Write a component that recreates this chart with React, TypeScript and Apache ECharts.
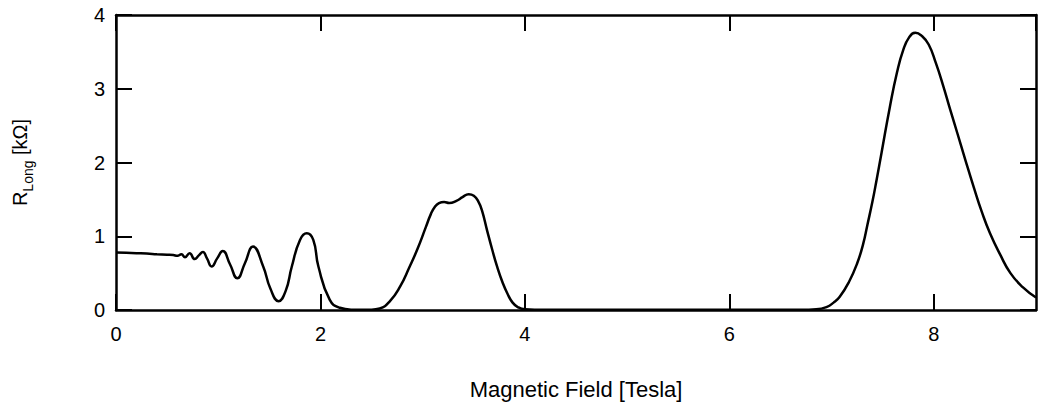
import React, { useEffect, useRef } from "react";
import * as echarts from "echarts";

const fieldTesla: number[] = [
  0, 0.1, 0.2, 0.3, 0.4, 0.5, 0.56, 0.6, 0.64, 0.675, 0.72, 0.77, 0.81, 0.85, 0.89, 0.935, 0.99, 1.044, 1.115,
  1.187, 1.26, 1.34, 1.44, 1.51, 1.59, 1.66, 1.72, 1.8, 1.866, 1.93, 1.98, 2.09, 2.19, 2.3, 2.5, 2.58, 2.68, 2.78,
  2.87, 2.95, 3.03, 3.08, 3.12, 3.16, 3.21, 3.26, 3.33, 3.39, 3.45, 3.5, 3.545, 3.58, 3.63, 3.68, 3.73, 3.78, 3.83,
  3.88, 3.93, 4.0, 4.2, 5.0, 6.0, 6.7, 6.85, 6.95, 7.02, 7.08, 7.17, 7.25, 7.31, 7.35, 7.4, 7.44, 7.49, 7.57, 7.64,
  7.7, 7.76, 7.82, 7.88, 7.95, 8.02, 8.09, 8.16, 8.23, 8.31, 8.39, 8.47, 8.55, 8.65, 8.75, 8.87, 9.0,
];
const rLongKOhm: number[] = [
  0.78, 0.775, 0.77, 0.765, 0.757, 0.75, 0.745, 0.735, 0.755, 0.715, 0.77, 0.69, 0.74, 0.785, 0.7, 0.59, 0.7, 0.8,
  0.62, 0.43, 0.63, 0.86, 0.59, 0.29, 0.12, 0.26, 0.59, 0.95, 1.04, 0.95, 0.59, 0.14, 0.03, 0.005, 0.005, 0.02,
  0.12, 0.32, 0.58, 0.83, 1.12, 1.3, 1.4, 1.45, 1.465, 1.45, 1.48, 1.53, 1.57, 1.55, 1.47, 1.35, 1.08, 0.82, 0.58,
  0.38, 0.22, 0.1, 0.04, 0.01, 0.003, 0.002, 0.002, 0.003, 0.01, 0.04, 0.1, 0.18, 0.38, 0.63, 0.9, 1.15, 1.47,
  1.76, 2.14, 2.75, 3.22, 3.52, 3.7, 3.76, 3.72, 3.6, 3.35, 3.05, 2.72, 2.4, 2.03, 1.67, 1.33, 1.04, 0.75, 0.5,
  0.31, 0.17,
];
const xTicks = { min: 0, max: 9, interval: 2 };
const yTicks = { min: 0, max: 4, interval: 1 };

const FONT = "'Liberation Sans', Arial, sans-serif";

export default function App() {
  const ref = useRef<HTMLDivElement>(null);
  useEffect(() => {
    if (!ref.current) return;
    const chart = echarts.init(ref.current, undefined, { renderer: "svg" });
    const data = fieldTesla.map((x, i) => [x, rLongKOhm[i]]);
    const axisLine = { show: true, onZero: false, lineStyle: { color: "#000", width: 2.5 } };
    const axisTick = { show: true, inside: true, length: 16, lineStyle: { color: "#000", width: 2 } };
    chart.setOption({
      animation: false,
      backgroundColor: "#fff",
      grid: { left: 116, right: 4, top: 15, bottom: 98 },
      xAxis: [
        {
          type: "value",
          position: "bottom",
          ...xTicks,
          axisLine,
          axisTick,
          splitLine: { show: false },
          axisLabel: {
            color: "#000",
            fontSize: 20,
            fontFamily: FONT,
            margin: 14,
            showMaxLabel: false,
          },
          name: "Magnetic Field [Tesla]",
          nameLocation: "middle",
          nameGap: 68,
          nameTextStyle: { color: "#000", fontSize: 22, fontFamily: FONT },
        },
        {
          type: "value",
          position: "top",
          ...xTicks,
          axisLine,
          axisTick,
          splitLine: { show: false },
          axisLabel: { show: false },
        },
      ],
      yAxis: [
        {
          type: "value",
          position: "left",
          ...yTicks,
          axisLine,
          axisTick,
          splitLine: { show: false },
          axisLabel: { color: "#000", fontSize: 20, fontFamily: FONT, margin: 11 },
          name: "{r|R}{s|Long}{r| [kΩ]}",
          nameLocation: "middle",
          nameGap: 81,
          nameRotate: 90,
          nameTextStyle: {
            color: "#000",
            fontFamily: FONT,
            rich: {
              r: { fontSize: 20, fontFamily: FONT, color: "#000", lineHeight: 30 },
              s: { fontSize: 14, fontFamily: FONT, color: "#000", lineHeight: 14, verticalAlign: "bottom" },
            },
          },
        },
        {
          type: "value",
          position: "right",
          ...yTicks,
          axisLine,
          axisTick,
          splitLine: { show: false },
          axisLabel: { show: false },
        },
      ],
      series: [
        {
          type: "line",
          data,
          showSymbol: false,
          smooth: 0.5,
          lineStyle: { color: "#000", width: 2.5 },
          itemStyle: { color: "#000" },
          clip: true,
        },
      ],
    });
    return () => chart.dispose();
  }, []);
  return (
    <div
      ref={ref}
      style={{ position: "absolute", left: 0, top: 0, width: 1040, height: 408 }}
    />
  );
}
